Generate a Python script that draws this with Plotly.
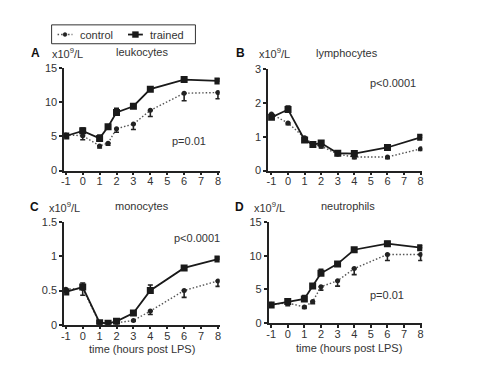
import plotly.graph_objects as go

W, H = 496, 373

time = [-1, 0, 1, 1.5, 2, 3, 4, 6, 8]
x_ticks = [-1, 0, 1, 2, 3, 4, 5, 6, 7, 8]

# leukocytes
leu_trained = [5.05, 5.8, 4.7, 6.4, 8.5, 9.4, 11.9, 13.3, 13.1]
leu_trained_err = [0.3, 0.4, 0.5, 0.3, 0.6, 0.3, 0.3, 0.3, 0.3]
leu_control = [5.2, 5.1, 3.6, 4.0, 6.1, 6.8, 8.8, 11.3, 11.4]
leu_control_err = [0.3, 0.6, 0.3, 0.3, 0.5, 0.8, 0.9, 1.1, 0.9]

# lymphocytes
lym_trained = [1.57, 1.8, 0.9, 0.77, 0.81, 0.51, 0.5, 0.68, 0.98]
lym_trained_err = [0.08, 0.1, 0.06, 0.03, 0.05, 0.03, 0.03, 0.03, 0.06]
lym_control = [1.67, 1.4, 0.97, 0.78, 0.72, 0.48, 0.40, 0.40, 0.64]
lym_control_err = [0.05, 0.05, 0.05, 0.03, 0.05, 0.03, 0.05, 0.05, 0.05]

# monocytes
mon_trained = [0.48, 0.55, 0.03, 0.02, 0.05, 0.17, 0.5, 0.83, 0.96]
mon_trained_err = [0.05, 0.06, 0.01, 0.01, 0.03, 0.02, 0.08, 0.03, 0.03]
mon_control = [0.52, 0.53, 0.02, 0.02, 0.03, 0.06, 0.2, 0.5, 0.64]
mon_control_err = [0.04, 0.1, 0.01, 0.01, 0.01, 0.01, 0.05, 0.1, 0.08]

# neutrophils
neu_trained = [2.7, 3.2, 3.6, 5.5, 7.4, 8.8, 10.9, 11.8, 11.2]
neu_trained_err = [0.3, 0.3, 0.5, 0.3, 0.6, 0.2, 0.3, 0.3, 0.3]
neu_control = [2.8, 3.0, 2.4, 3.2, 5.4, 6.3, 8.1, 10.2, 10.2]
neu_control_err = [0.3, 0.4, 0.2, 0.3, 0.5, 0.8, 0.9, 0.9, 0.9]

series_names = ["control", "trained"]

panels = [
    dict(key="A", title="leukocytes", tr=leu_trained, tre=leu_trained_err,
         co=leu_control, coe=leu_control_err, yr=[0, 15], yt=[0, 5, 10, 15],
         ytl=["0", "5", "10", "15"], p="p=0.01"),
    dict(key="B", title="lymphocytes", tr=lym_trained, tre=lym_trained_err,
         co=lym_control, coe=lym_control_err, yr=[0, 3], yt=[0, 1, 2, 3],
         ytl=["0", "1", "2", "3"], p="p<0.0001"),
    dict(key="C", title="monocytes", tr=mon_trained, tre=mon_trained_err,
         co=mon_control, coe=mon_control_err, yr=[0, 1.5], yt=[0, 0.5, 1, 1.5],
         ytl=["0", "0.5", "1", "1.5"], p="p<0.0001"),
    dict(key="D", title="neutrophils", tr=neu_trained, tre=neu_trained_err,
         co=neu_control, coe=neu_control_err, yr=[0, 15], yt=[0, 5, 10, 15],
         ytl=["0", "5", "10", "15"], p="p=0.01"),
]

def px(x):
    return x / W

def py(y):
    return 1 - y / H

# plot areas in pixels (left, right, top, bottom)
areas = [
    (61.6, 218.4, 64, 170),
    (267.3, 422.7, 65, 170),
    (61.6, 218.4, 223.3, 329.3),
    (267.8, 422.7, 223.3, 327.7),
]
xranges = [[-1.1, 8.1], [-1.2, 8.1], [-1.1, 8.1], [-1.15, 8.1]]

FONT = "Liberation Sans, Arial, sans-serif"
TXT = "#333333"
DARK = "#1a1a1a"
CTRL_LINE = "#555555"
CTRL_DASH = "1.5px,2px"

fig = go.Figure()
layout = dict(
    width=W, height=H,
    margin=dict(l=0, r=0, t=0, b=0),
    paper_bgcolor="white", plot_bgcolor="white",
    font=dict(family=FONT, size=11, color=TXT),
    showlegend=False,
)

for i, p in enumerate(panels):
    n = "" if i == 0 else str(i + 1)
    l, r, t, b = areas[i]
    axis_common = dict(showline=True, linecolor="#222222", linewidth=1.5, ticks="outside",
                       ticklen=3, tickwidth=1.5, tickcolor="#222222", showgrid=False,
                       zeroline=False, tickfont=dict(size=11, color=TXT))
    layout["xaxis" + n] = dict(axis_common, domain=[px(l), px(r)], range=xranges[i],
                               tickvals=x_ticks, ticktext=[str(v) for v in x_ticks],
                               anchor="y" + n, ticklabelstandoff=-3)
    layout["yaxis" + n] = dict(axis_common, domain=[py(b), py(t)], range=p["yr"],
                               tickvals=p["yt"], ticktext=p["ytl"], anchor="x" + n)
    fig.add_trace(go.Scatter(
        x=time, y=p["co"], mode="lines+markers", name=series_names[0],
        xaxis="x" + n, yaxis="y" + n,
        line=dict(color=CTRL_LINE, width=1.4, dash=CTRL_DASH),
        marker=dict(symbol="circle", size=5, color="#222222"),
        error_y=dict(type="data", symmetric=False, array=[0] * len(time),
                     arrayminus=p["coe"], color="#222222", thickness=1.6, width=2.5),
    ))
    fig.add_trace(go.Scatter(
        x=time, y=p["tr"], mode="lines+markers", name=series_names[1],
        xaxis="x" + n, yaxis="y" + n,
        line=dict(color=DARK, width=1.8),
        marker=dict(symbol="square", size=7, color=DARK),
        error_y=dict(type="data", symmetric=False, array=p["tre"],
                     arrayminus=[0] * len(time), color=DARK, thickness=1.6, width=2.5),
    ))

ann = []
def add_text(x, y, text, size=11, bold=False, xanchor="center"):
    ann.append(dict(x=px(x), y=py(y), xref="paper", yref="paper",
                    text=("<b>%s</b>" % text) if bold else text,
                    showarrow=False, xanchor=xanchor, yanchor="middle",
                    font=dict(size=size, color="#111111" if bold else TXT, family=FONT)))

# panel labels
add_text(33, 49, "A", 12, True)
add_text(239, 49, "B", 12, True)
add_text(32, 208, "C", 12, True)
add_text(238, 208, "D", 12, True)
# units
add_text(47, 49, "x10<sup>9</sup>/L", 11, xanchor="left")
add_text(256, 49, "x10<sup>9</sup>/L", 11, xanchor="left")
add_text(44, 208, "x10<sup>9</sup>/L", 11, xanchor="left")
add_text(251, 208, "x10<sup>9</sup>/L", 11, xanchor="left")
# titles
add_text(140, 48, panels[0]["title"])
add_text(347, 49, panels[1]["title"])
add_text(140, 207, panels[2]["title"])
add_text(348, 207, panels[3]["title"])
# p-values
add_text(188, 140, panels[0]["p"])
add_text(393, 80, panels[1]["p"])
add_text(196, 240, panels[2]["p"])
add_text(387, 299, panels[3]["p"])
# x titles
add_text(140, 354, "time (hours post LPS)")
add_text(349, 353, "time (hours post LPS)")

# manual legend
add_text(76, 29.5, series_names[0], xanchor="left")
add_text(146, 29.5, series_names[1], xanchor="left")
shapes = [
    dict(type="rect", xref="paper", yref="paper", x0=px(49), x1=px(194), y0=py(39), y1=py(19.5),
         line=dict(color="#333333", width=1), fillcolor="white", layer="below"),
    dict(type="line", xref="paper", yref="paper", x0=px(55), x1=px(70), y0=py(29.5), y1=py(29.5),
         line=dict(color=CTRL_LINE, width=1.4, dash=CTRL_DASH)),
    dict(type="circle", xref="paper", yref="paper", x0=px(60.5), x1=px(64.5), y0=py(31.5), y1=py(27.5),
         line=dict(color="#222222", width=0.5), fillcolor="#222222"),
    dict(type="line", xref="paper", yref="paper", x0=px(126), x1=px(141), y0=py(29.5), y1=py(29.5),
         line=dict(color=DARK, width=1.8)),
    dict(type="rect", xref="paper", yref="paper", x0=px(130.5), x1=px(136.5), y0=py(32.5), y1=py(26.5),
         line=dict(color=DARK, width=0.5), fillcolor=DARK),
]

layout["annotations"] = ann
layout["shapes"] = shapes
fig.update_layout(**layout)
fig.write_html("out.html", config={"displayModeBar": False},
               post_script="document.body.style.margin='0';document.body.style.overflow='hidden';")
